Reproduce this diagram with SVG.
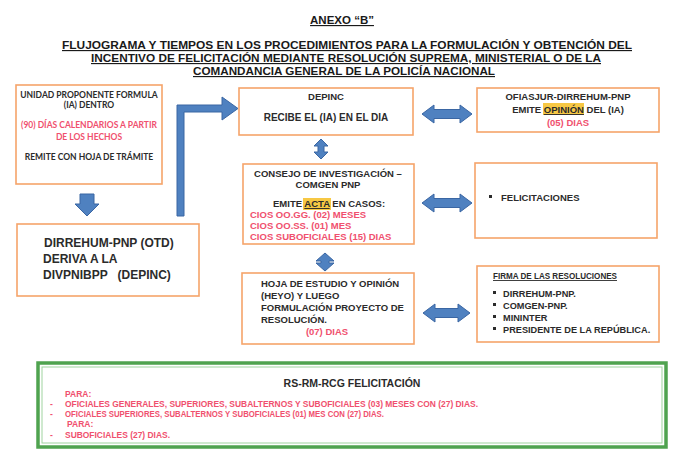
<svg xmlns="http://www.w3.org/2000/svg" width="681" height="455" viewBox="0 0 681 455">
<defs>
<style>
text{font-family:"Liberation Sans",Arial,sans-serif;font-weight:bold;fill:#2b2b2b}
.t{font-size:11.5px;text-anchor:middle;text-decoration:underline;fill:#1a1a1a}
.c{text-anchor:middle}
.cal{font-family:Lato,"Liberation Sans",sans-serif;font-size:8.5px;text-anchor:middle}
.red{fill:#f0506e}
.s95{font-size:9.5px}
.s92{font-size:9.2px}
.box{fill:#fff;stroke:#f6a46a;stroke-width:1.6}
.arr{fill:#4f81c0;stroke:#3a66a3;stroke-width:1}
.hl{fill:#f7c844}
.g{font-size:8.5px;fill:#f0506e}
</style>
</defs>
<rect width="681" height="455" fill="#fff"/>

<g id="title">
<text class="t" x="342" y="24" font-size="11">ANEXO “B”</text>
<text class="t" x="347" y="49" textLength="570" lengthAdjust="spacingAndGlyphs">FLUJOGRAMA Y TIEMPOS EN LOS PROCEDIMIENTOS PARA LA FORMULACIÓN Y OBTENCIÓN DEL</text>
<text class="t" x="346" y="62" textLength="510" lengthAdjust="spacingAndGlyphs">INCENTIVO DE FELICITACIÓN MEDIANTE RESOLUCIÓN SUPREMA, MINISTERIAL O DE LA</text>
<text class="t" x="344" y="75" textLength="302" lengthAdjust="spacingAndGlyphs">COMANDANCIA GENERAL DE LA POLICÍA NACIONAL</text>
</g>

<g id="connectors">
<path class="arr" d="M80,194 L94,194 L94,204 L99,204 L87,216 L75,204 L80,204 Z"/>
<path class="arr" d="M177,216 L177,105 L222,105 L222,97 L238,108.5 L222,120 L222,112 L184,112 L184,216 Z"/>
<path class="arr" d="M321,139 L328,146 L324,146 L324,152 L328,152 L321,159 L314,152 L318,152 L318,146 L314,146 Z"/>
<path class="arr" d="M325,253 L334,261 L329,261 L329,263 L334,263 L325,271 L316,263 L321,263 L321,261 L316,261 Z"/>
<path class="arr" d="M422,114 L434,105 L434,109.5 L460,109.5 L460,105 L472,114 L460,123 L460,118.5 L434,118.5 L434,123 Z"/>
<path class="arr" d="M422,203 L434,194 L434,198.5 L460,198.5 L460,194 L472,203 L460,212 L460,207.5 L434,207.5 L434,212 Z"/>
<path class="arr" d="M423,313 L435,304 L435,308.5 L458,308.5 L458,304 L470,313 L458,322 L458,317.5 L435,317.5 L435,322 Z"/>
</g>

<g id="unidad">
<rect class="box" x="16" y="85" width="146" height="99"/>
<text class="cal" x="89" y="98">UNIDAD PROPONENTE FORMULA</text>
<text class="cal" x="89" y="108">(IA) DENTRO</text>
<text class="cal red" x="89" y="128">(90) DÍAS CALENDARIOS A PARTIR</text>
<text class="cal red" x="89" y="140">DE LOS HECHOS</text>
<text class="cal" x="89" y="160">REMITE CON HOJA DE TRÁMITE</text>
</g>

<g id="dirrehum">
<rect class="box" x="17" y="224" width="182" height="72"/>
<text x="44" y="247" font-size="12">DIRREHUM-PNP (OTD)</text>
<text x="43" y="263" font-size="12">DERIVA A LA</text>
<text x="43" y="279" font-size="12" style="white-space:pre">DIVPNIBPP   (DEPINC)</text>
</g>

<g id="depinc">
<rect class="box" x="239" y="88" width="174" height="47"/>
<text class="c" x="326" y="100" font-size="9.5">DEPINC</text>
<text class="c" x="326" y="121" font-size="10">RECIBE EL (IA) EN EL DIA</text>
</g>

<g id="consejo">
<rect class="box" x="243" y="164" width="171" height="80"/>
<text class="c s95" x="328" y="177">CONSEJO DE INVESTIGACIÓN –</text>
<text class="c s95" x="328" y="188">COMGEN PNP</text>
<rect class="hl" x="303" y="198" width="28" height="12"/>
<text class="s95" x="273" y="207">EMITE <tspan text-decoration="underline">ACTA</tspan> EN CASOS:</text>
<text class="s95 red" x="250" y="218">CIOS OO.GG. (02) MESES</text>
<text class="s95 red" x="250" y="229">CIOS OO.SS. (01) MES</text>
<text class="s95 red" x="250" y="240">CIOS SUBOFICIALES (15) DIAS</text>
</g>

<g id="heyo">
<rect class="box" x="242" y="273" width="172" height="71"/>
<text class="s95" x="261" y="287">HOJA DE ESTUDIO Y OPINIÓN</text>
<text class="s95" x="261" y="299">(HEYO) Y LUEGO</text>
<text class="s95" x="261" y="311">FORMULACIÓN PROYECTO DE</text>
<text class="s95" x="261" y="323">RESOLUCIÓN.</text>
<text class="c s95 red" x="327" y="335">(07) DIAS</text>
</g>

<g id="ofiasjur">
<rect class="box" x="477" y="88" width="182" height="44"/>
<text class="c s95" x="568" y="100">OFIASJUR-DIRREHUM-PNP</text>
<rect class="hl" x="543" y="103" width="41" height="12"/>
<text class="c s95" x="568" y="113">EMITE <tspan text-decoration="underline">OPINIÓN</tspan> DEL (IA)</text>
<text class="c s95 red" x="568" y="126">(05) DIAS</text>
</g>

<g id="felicitaciones">
<rect class="box" x="475" y="163" width="182" height="75"/>
<rect x="489" y="195" width="3" height="3" fill="#2b2b2b"/>
<text class="s95" x="501" y="201">FELICITACIONES</text>
</g>

<g id="firma">
<rect class="box" x="477" y="266" width="182" height="76"/>
<text x="493" y="279" font-size="9" text-decoration="underline" textLength="124" lengthAdjust="spacingAndGlyphs">FIRMA DE LAS RESOLUCIONES</text>
<rect x="493" y="291" width="3" height="3" fill="#2b2b2b"/>
<rect x="493" y="303" width="3" height="3" fill="#2b2b2b"/>
<rect x="493" y="315" width="3" height="3" fill="#2b2b2b"/>
<rect x="493" y="327" width="3" height="3" fill="#2b2b2b"/>
<text class="s92" x="503" y="297">DIRREHUM-PNP.</text>
<text class="s92" x="503" y="309">COMGEN-PNP.</text>
<text class="s92" x="503" y="321">MININTER</text>
<text class="s92" x="503" y="333">PRESIDENTE DE LA REPÚBLICA.</text>
</g>

<g id="resolucion">
<rect x="38" y="363" width="628" height="84" fill="#fff" stroke="#4fa34f" stroke-width="3.5"/>
<rect x="42" y="367" width="620" height="76" fill="none" stroke="#9fd39f" stroke-width="1"/>
<text class="c" x="352" y="387" font-size="10.5">RS-RM-RCG FELICITACIÓN</text>
<text class="g" x="65" y="397">PARA:</text>
<text class="g" x="50" y="407">-</text>
<text class="g" x="65" y="407" textLength="413" lengthAdjust="spacingAndGlyphs">OFICIALES GENERALES, SUPERIORES, SUBALTERNOS Y SUBOFICIALES (03) MESES CON (27) DIAS.</text>
<text class="g" x="50" y="417">-</text>
<text class="g" x="65" y="417" textLength="319" lengthAdjust="spacingAndGlyphs">OFICIALES SUPERIORES, SUBALTERNOS Y SUBOFICIALES (01) MES CON (27) DIAS.</text>
<text class="g" x="67" y="427">PARA:</text>
<text class="g" x="50" y="438">-</text>
<text class="g" x="65" y="438" textLength="105" lengthAdjust="spacingAndGlyphs">SUBOFICIALES (27) DIAS.</text>
</g>
</svg>
